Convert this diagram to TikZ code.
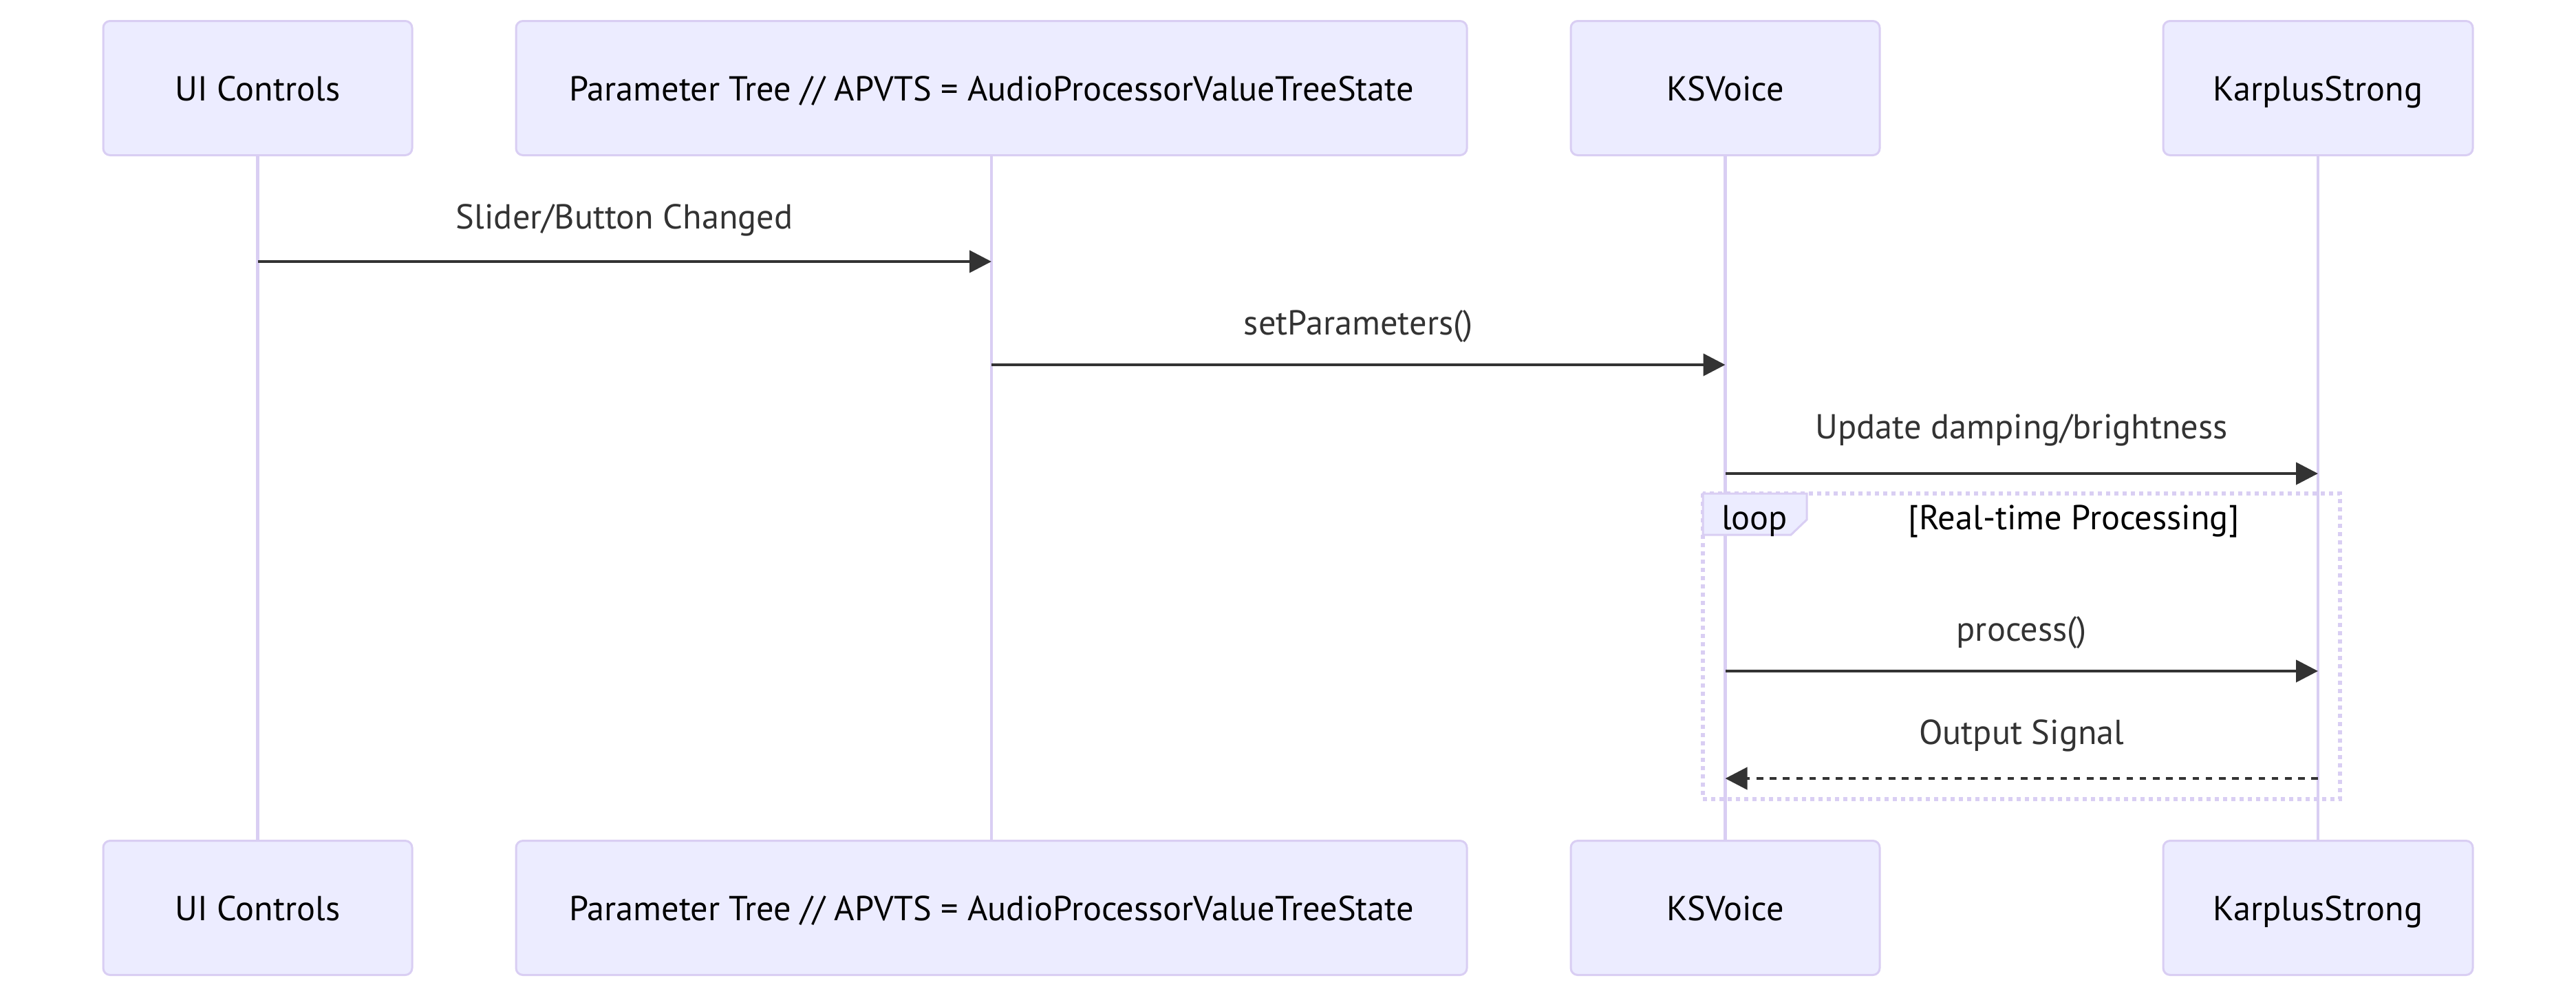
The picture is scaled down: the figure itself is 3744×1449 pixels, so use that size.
\documentclass[tikz,border=0pt]{standalone}
\usepackage{fontspec}
\setmainfont{PT Sans}
\usetikzlibrary{arrows.meta,calc}
\definecolor{actfill}{HTML}{ECECFF}
\definecolor{actline}{HTML}{D9CEF3}
\definecolor{msgcol}{HTML}{333333}

\begin{document}
\begin{tikzpicture}[x=0.25pt,y=-0.25pt,
  txt/.style={font=\fontsize{12.6}{15}\selectfont,text height=9pt,text depth=3pt},
  actor/.style={txt,text depth=0pt,draw=actline,fill=actfill,line width=0.75pt,rounded corners=2.5pt,
    minimum height=48.75pt,inner sep=0pt,text=black},
  life/.style={draw=actline,line width=1.2pt},
  msg/.style={draw=msgcol,line width=1.1pt,-{Triangle[length=8pt,width=8pt]}},
  reply/.style={msg,dash pattern=on 2.4pt off 2.4pt},
  lbl/.style={txt,text=msgcol},
  loopline/.style={draw=actline,line width=1.3pt,dash pattern=on 1.5pt off 1.5pt}]
  \useasboundingbox (0,0) rectangle (3744,1449);
  \foreach \s/\y in {T/128,B/1319}{
    \node[actor,minimum width=112.25pt] (ui-\s) at (374.5,\y) {UI Controls};
    \node[actor,minimum width=345.5pt] (ap-\s) at (1441,\y) {Parameter Tree // APVTS = AudioProcessorValueTreeState};
    \node[actor,minimum width=112.25pt] (ks-\s) at (2507.5,\y) {KSVoice};
    \node[actor,minimum width=112.5pt] (kp-\s) at (3369,\y) {KarplusStrong};
  }
  \foreach \n in {ui,ap,ks,kp}
    \draw[life] (\n-T.south) -- (\n-B.north);

  \draw[msg] (ui-T.south |- 0,380) -- (ap-T.south |- 0,380)
    node[lbl,midway,yshift=15pt] {Slider/Button Changed};
  \draw[msg] (ap-T.south |- 0,530) -- (ks-T.south |- 0,530)
    node[lbl,midway,yshift=14pt] {setParameters()};
  \draw[msg] (ks-T.south |- 0,688) -- (kp-T.south |- 0,688)
    node[lbl,midway,yshift=15.75pt] {Update damping/brightness};

  % loop frame
  \draw[loopline] (2475,717) rectangle (3401,1161);
  \draw[draw=actline,fill=actfill,line width=0.75pt]
    (2475,717) -- (2626,717) -- (2626,755) -- (2603,777) -- (2475,777) -- cycle;
  \node[txt] (loopTag) at (2550,757) {loop};
  \node[txt] (loopTitle) at (3014,757) {[Real-time Processing]};

  \draw[msg] (ks-T.south |- 0,975) -- (kp-T.south |- 0,975)
    node[lbl,midway,yshift=14pt] {process()};
  \draw[reply] (kp-T.south |- 0,1131) -- (ks-T.south |- 0,1131)
    node[lbl,midway,yshift=15.5pt] {Output Signal};
\end{tikzpicture}
\end{document}
